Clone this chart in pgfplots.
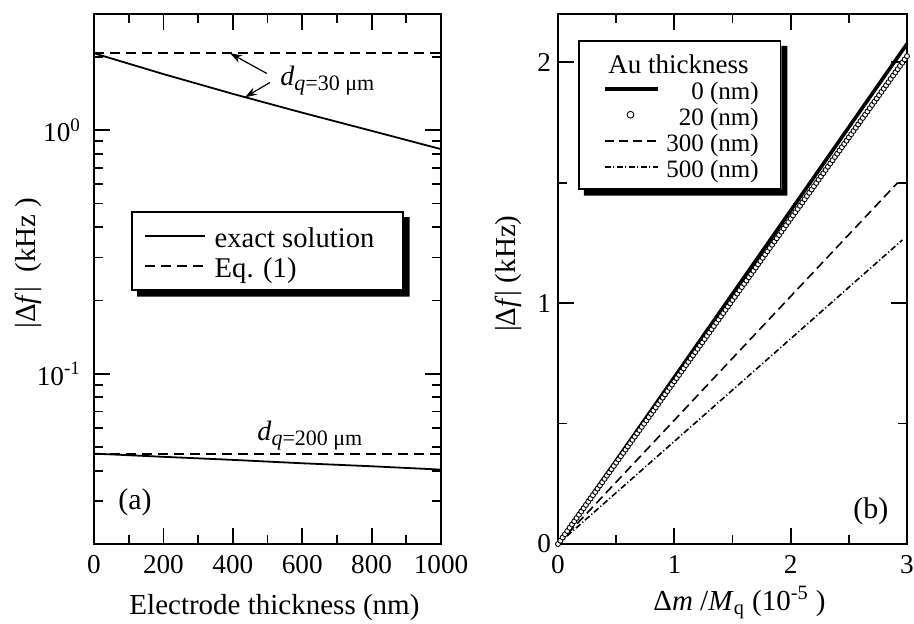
\documentclass[border=0pt]{standalone}
\usepackage{fontspec}
\setmainfont{Liberation Serif}
\usepackage{pgfplots}
\pgfplotsset{compat=1.18}
\usetikzlibrary{arrows.meta}

\pgfplotsset{
  every axis/.append style={
    scale only axis,
    axis line style={line width=1pt},
    tick style={line width=0.9pt, black},
    major tick length=8pt, minor tick length=4.5pt,
    tick align=inside,
    tick label style={font=\fontsize{13.6}{16}\selectfont},
    label style={font=\fontsize{14.5}{17}\selectfont},
    /pgf/number format/assume math mode=true,
    /pgf/number format/1000 sep={},
  },
  circ legend/.style={legend image code/.code={\path (-3pt,0pt) (28pt,0pt); \draw[##1, mark size=1.7pt] plot coordinates {(13pt,0pt)};}},
}

\begin{document}
\begin{tikzpicture}

% (a) frequency shift vs electrode thickness
\begin{axis}[
  at={(47pt,40pt)}, anchor=south west,
  width=173.5pt, height=265pt,
  xmin=0, xmax=1000,
  ymode=log, ymin=0.02, ymax=3,
  xtick={0,200,...,1000}, minor xtick={100,300,...,900},
  ytick={0.1,1}, yticklabels={10\textsuperscript{-1},10\textsuperscript{0}},
  minor ytick={0.02,0.03,0.04,0.05,0.06,0.07,0.08,0.09,0.2,0.3,0.4,0.5,0.6,0.7,0.8,0.9,2,3},
  yticklabel style={xshift=-3pt},
  xticklabel style={yshift=-2pt},
  xlabel={Electrode thickness (nm)},
  ylabel={|Δ\textit{f}|\ \ (kHz )},
  xlabel style={at={(axis description cs:0.52,-0.119)}, anchor=center},
  ylabel style={at={(axis description cs:-0.19,0.53)}, anchor=center},
  legend style={name=legA, at={(axis description cs:0.107,0.628)}, anchor=north west,
    draw=black, line width=0.8pt, fill=white,
    font=\fontsize{14.3}{16}\selectfont,
    nodes={inner xsep=2pt, inner ysep=0pt, text height=13.5pt, text depth=1.5pt},
    row sep=0pt, inner xsep=6pt, inner ysep=4.5pt},
  legend cell align=left,
  legend image code/.code={\draw[#1] (0pt,0pt) -- (30pt,0pt); \path (32.5pt,0pt);},
]
\addplot[black, line width=0.9pt] coordinates {
  (0,2.07) (200,1.70) (400,1.41) (600,1.18) (800,0.994) (1000,0.836)
};
\addlegendentry{\makebox[86pt][l]{exact solution}}
\addplot[black, line width=0.9pt, dash pattern=on 5pt off 3pt] coordinates {
  (0,2.08) (1000,2.08)
};
\addlegendentry{Eq. (1)}
\addplot[black, line width=0.9pt, forget plot] coordinates {
  (0,0.0470) (200,0.0456) (400,0.0443) (600,0.0429) (800,0.0417) (1000,0.0404)
};
\addplot[black, line width=0.9pt, dash pattern=on 5pt off 3pt, forget plot] coordinates {
  (0,0.0470) (1000,0.0470)
};
\draw[-{Stealth[length=6pt,width=4pt]}, line width=0.6pt] (axis cs:498,1.71) -- (axis cs:392,2.07);
\draw[-{Stealth[length=6pt,width=4pt]}, line width=0.6pt] (axis cs:507,1.57) -- (axis cs:435,1.365);
\node[anchor=base west, inner sep=0pt] at (axis cs:536,1.53)
  {\fontsize{14}{16}\selectfont\textit{d}\raisebox{-2.5pt}{\fontsize{11}{13}\selectfont\textit{q}=30 μm}};
\node[anchor=base west, inner sep=0pt] at (axis cs:470,0.0533)
  {\fontsize{14}{16}\selectfont\textit{d}\raisebox{-2.5pt}{\fontsize{11}{13}\selectfont\textit{q}=200 μm}};
\node[font=\fontsize{15}{17}\selectfont] at (axis cs:118,0.0298) {(a)};
\end{axis}

% (b) frequency shift vs mass ratio
\begin{axis}[
  at={(279pt,40pt)}, anchor=south west,
  width=174.5pt, height=265pt,
  xmin=0, xmax=3, ymin=0, ymax=2.2,
  xtick={0,1,2,3}, minor xtick={0.5,1.5,2.5},
  ytick={0,1,2}, minor ytick={0.5,1.5},
  xticklabel style={yshift=-2pt},
  xlabel={Δ\textit{m} /\textit{M}\textsubscript{q} (10\textsuperscript{-5} )},
  ylabel={|Δ\textit{f}| (kHz)},
  xlabel style={at={(axis description cs:0.52,-0.111)}, anchor=center},
  ylabel style={at={(axis description cs:-0.143,0.51)}, anchor=center},
  clip=false,
  legend style={name=legB, at={(axis description cs:0.057,0.951)}, anchor=north west,
    draw=black, line width=0.8pt, fill=white,
    font=\fontsize{12.5}{14}\selectfont,
    nodes={inner xsep=2pt, inner ysep=0pt, text height=12pt, text depth=1pt},
    row sep=0pt, inner xsep=9pt, inner ysep=4.5pt},
  legend cell align=right,
  legend image code/.code={\path (-3pt,0pt) (28pt,0pt); \draw[#1] (0pt,0pt) -- (26.5pt,0pt);},
]
\addlegendimage{empty legend}
\addlegendentry{\makebox[0pt][r]{\fontsize{13.5}{14}\selectfont Au thickness\hspace{5pt}}}
\addplot[black, line width=1.8pt] coordinates {
  (0,0) (1,0.692) (2,1.384) (3,2.076)
};
\addlegendentry{0 (nm)}
\addplot[only marks, mark=*, mark size=1.25pt, mark options={fill=white, draw=black, line width=0.45pt},
  circ legend]
coordinates {
  (0,0) (0.02,0.0135) (0.04,0.027) (0.06,0.0405) (0.08,0.054) (0.1,0.0675)
  (0.12,0.081) (0.14,0.0945) (0.16,0.108) (0.18,0.1215) (0.2,0.135)
  (0.22,0.1485) (0.24,0.162) (0.26,0.1755) (0.28,0.189) (0.3,0.2025)
  (0.32,0.216) (0.34,0.2295) (0.36,0.243) (0.38,0.2565) (0.4,0.27)
  (0.42,0.2835) (0.44,0.297) (0.46,0.3105) (0.48,0.324) (0.5,0.3375)
  (0.52,0.351) (0.54,0.3645) (0.56,0.378) (0.58,0.3915) (0.6,0.405)
  (0.62,0.4185) (0.64,0.432) (0.66,0.4455) (0.68,0.459) (0.7,0.4725)
  (0.72,0.486) (0.74,0.4995) (0.76,0.513) (0.78,0.5265) (0.8,0.54)
  (0.82,0.5535) (0.84,0.567) (0.86,0.5805) (0.88,0.594) (0.9,0.6075)
  (0.92,0.621) (0.94,0.6345) (0.96,0.648) (0.98,0.6615) (1.0,0.675)
  (1.02,0.6885) (1.04,0.702) (1.06,0.7155) (1.08,0.729) (1.1,0.7425)
  (1.12,0.756) (1.14,0.7695) (1.16,0.783) (1.18,0.7965) (1.2,0.81)
  (1.22,0.8235) (1.24,0.837) (1.26,0.8505) (1.28,0.864) (1.3,0.8775)
  (1.32,0.891) (1.34,0.9045) (1.36,0.918) (1.38,0.9315) (1.4,0.945)
  (1.42,0.9585) (1.44,0.972) (1.46,0.9855) (1.48,0.999) (1.5,1.0125)
  (1.52,1.026) (1.54,1.0395) (1.56,1.053) (1.58,1.0665) (1.6,1.08)
  (1.62,1.0935) (1.64,1.107) (1.66,1.1205) (1.68,1.134) (1.7,1.1475)
  (1.72,1.161) (1.74,1.1745) (1.76,1.188) (1.78,1.2015) (1.8,1.215)
  (1.82,1.2285) (1.84,1.242) (1.86,1.2555) (1.88,1.269) (1.9,1.2825)
  (1.92,1.296) (1.94,1.3095) (1.96,1.323) (1.98,1.3365) (2.0,1.35)
  (2.02,1.3635) (2.04,1.377) (2.06,1.3905) (2.08,1.404) (2.1,1.4175)
  (2.12,1.431) (2.14,1.4445) (2.16,1.458) (2.18,1.4715) (2.2,1.485)
  (2.22,1.4985) (2.24,1.512) (2.26,1.5255) (2.28,1.539) (2.3,1.5525)
  (2.32,1.566) (2.34,1.5795) (2.36,1.593) (2.38,1.6065) (2.4,1.62)
  (2.42,1.6335) (2.44,1.647) (2.46,1.6605) (2.48,1.674) (2.5,1.6875)
  (2.52,1.701) (2.54,1.7145) (2.56,1.728) (2.58,1.7415) (2.6,1.755)
  (2.62,1.7685) (2.64,1.782) (2.66,1.7955) (2.68,1.809) (2.7,1.8225)
  (2.72,1.836) (2.74,1.8495) (2.76,1.863) (2.78,1.8765) (2.8,1.89)
  (2.82,1.9035) (2.84,1.917) (2.86,1.9305) (2.88,1.944) (2.9,1.9575)
  (2.92,1.971) (2.94,1.9845) (2.96,1.998) (2.98,2.0115) (3.0,2.025)
};
\addlegendentry{20 (nm)}
\addplot[black, line width=0.8pt, dash pattern=on 4.5pt off 2.5pt] coordinates {
  (0,0) (1,0.514) (2,1.028) (2.92,1.500)
};
\addlegendentry{300 (nm)}
\addplot[black, line width=0.8pt, dash pattern=on 3pt off 1.2pt on 0.6pt off 1.2pt] coordinates {
  (0,0) (1,0.426) (2,0.852) (2.96,1.262)
};
\addlegendentry{500 (nm)}
\node[font=\fontsize{15}{17}\selectfont] at (axis cs:2.69,0.137) {(b)};
\end{axis}

% drop shadows of the two legend boxes
\foreach \L in {legA,legB} {
  \fill[black] ([xshift=3pt]\L.south west) -- ([xshift=3pt,yshift=-3pt]\L.south west)
    -- ([xshift=3pt,yshift=-3pt]\L.south east) -- ([xshift=3pt,yshift=-3pt]\L.north east)
    -- ([yshift=-3pt]\L.north east) -- (\L.south east) -- cycle;
}

\pgfresetboundingbox
\path (0pt,0pt) rectangle (457pt,312pt);
\end{tikzpicture}
\end{document}
